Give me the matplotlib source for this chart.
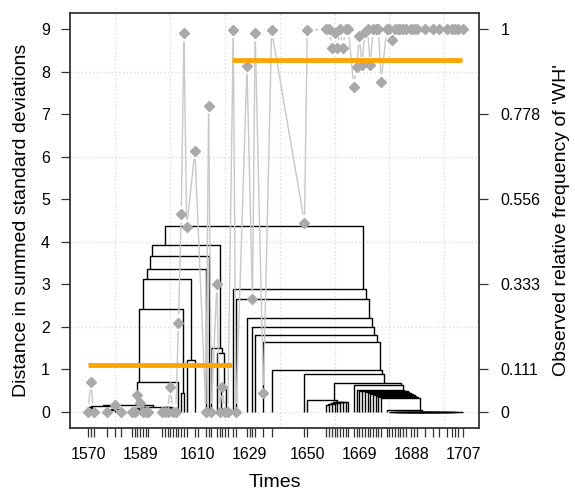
import matplotlib
matplotlib.use("Agg")
import matplotlib.pyplot as plt
import numpy as np
from matplotlib.collections import LineCollection

plt.rcParams["font.family"] = ["Liberation Sans", "DejaVu Sans"]

# ---------------------------------------------------------------------------
# Data
# ---------------------------------------------------------------------------

years = [
    1570, 1571, 1572, 1577, 1580, 1582, 1586, 1587, 1588, 1589, 1590, 1591,
    1592, 1597, 1598, 1599, 1600, 1601, 1602, 1603, 1604, 1605, 1606, 1609,
    1613, 1614, 1615, 1617, 1618, 1619, 1620, 1621, 1623, 1624, 1628, 1630,
    1631, 1634, 1637, 1649, 1650, 1657, 1658, 1659, 1660, 1661, 1662, 1663,
    1664, 1665, 1667, 1668, 1669, 1670, 1671, 1672, 1673, 1674, 1675, 1676,
    1677, 1679, 1680, 1681, 1682, 1683, 1684, 1685, 1686, 1688, 1689, 1690,
    1693, 1696, 1698, 1701, 1703, 1704, 1705, 1707,
]

# relative frequency of 'WH' per year
freq = [
    0.0, 0.079, 0.0, 0.0, 0.017, 0.0, 0.0, 0.0, 0.045, 0.022, 0.0, 0.0,
    0.0, 0.0, 0.0, 0.0, 0.065, 0.0, 0.0, 0.233, 0.516, 0.989, 0.482, 0.682,
    0.0, 0.8, 0.0, 0.333, 0.0, 0.064, 0.0, 0.0, 0.997, 0.0, 0.903, 0.294,
    0.989, 0.049, 0.997, 0.494, 0.997, 1.0, 1.0, 0.95, 0.99, 0.95, 1.0, 0.95,
    1.0, 1.0, 0.849, 0.9, 0.981, 0.907, 0.993, 1.0, 0.907, 1.0, 1.0, 1.0,
    0.863, 1.0, 1.0, 0.972, 1.0, 1.0, 1.0, 1.0, 1.0, 1.0, 1.0, 1.0,
    1.0, 1.0, 1.0, 1.0, 1.0, 1.0, 1.0, 1.0,
]

# neighbour clustering: (first year, first year of right part, last year, height)
merges = [
    (1571, 1572, 1572, 0.08), (1570, 1571, 1572, 0.12),
    (1577, 1580, 1580, 0.05), (1577, 1582, 1582, 0.06),
    (1570, 1577, 1582, 0.14),
    (1586, 1587, 1587, 0.0), (1588, 1589, 1589, 0.04), (1586, 1588, 1589, 0.08),
    (1590, 1591, 1591, 0.0), (1590, 1592, 1592, 0.0), (1586, 1590, 1592, 0.09),
    (1597, 1598, 1598, 0.0), (1597, 1599, 1599, 0.0), (1601, 1602, 1602, 0.0),
    (1600, 1601, 1602, 0.1), (1597, 1600, 1602, 0.11),
    (1586, 1597, 1602, 0.12), (1570, 1586, 1602, 0.16),
    (1570, 1603, 1603, 0.71),
    (1604, 1605, 1605, 0.45), (1570, 1604, 1605, 2.43),
    (1606, 1609, 1609, 1.22), (1570, 1606, 1609, 3.12),
    (1570, 1613, 1613, 3.37), (1570, 1614, 1614, 3.66),
    (1618, 1619, 1619, 0.1), (1620, 1621, 1621, 0.02), (1618, 1620, 1621, 0.56),
    (1617, 1618, 1621, 1.38), (1615, 1617, 1621, 1.5),
    (1570, 1615, 1621, 3.92),
    (1680, 1681, 1681, 0.0), (1680, 1682, 1682, 0.0), (1680, 1683, 1683, 0.0),
    (1680, 1684, 1684, 0.0), (1680, 1685, 1685, 0.0), (1680, 1686, 1686, 0.0),
    (1680, 1688, 1688, 0.0), (1680, 1689, 1689, 0.0), (1680, 1690, 1690, 0.0),
    (1680, 1693, 1693, 0.0), (1680, 1696, 1696, 0.0), (1680, 1698, 1698, 0.0),
    (1680, 1701, 1701, 0.0), (1680, 1703, 1703, 0.0), (1680, 1704, 1704, 0.0),
    (1680, 1705, 1705, 0.0), (1680, 1707, 1707, 0.0),
    (1679, 1680, 1707, 0.04), (1677, 1679, 1707, 0.32),
    (1676, 1677, 1707, 0.36), (1675, 1676, 1707, 0.38), (1674, 1675, 1707, 0.40),
    (1673, 1674, 1707, 0.42), (1672, 1673, 1707, 0.44), (1671, 1672, 1707, 0.46),
    (1670, 1671, 1707, 0.48), (1669, 1670, 1707, 0.50), (1668, 1669, 1707, 0.52),
    (1667, 1668, 1707, 0.63),
    (1657, 1658, 1658, 0.16), (1657, 1659, 1659, 0.175), (1657, 1660, 1660, 0.19),
    (1657, 1661, 1661, 0.20), (1657, 1662, 1662, 0.21), (1657, 1663, 1663, 0.22),
    (1657, 1664, 1664, 0.23), (1657, 1665, 1665, 0.24), (1650, 1657, 1665, 0.27),
    (1650, 1667, 1707, 0.67), (1649, 1650, 1707, 0.89),
    (1637, 1649, 1707, 0.98), (1634, 1637, 1707, 1.65), (1631, 1634, 1707, 1.80),
    (1630, 1631, 1707, 2.00), (1628, 1630, 1707, 2.20), (1624, 1628, 1707, 2.65),
    (1623, 1624, 1707, 2.88),
    (1570, 1623, 1707, 4.37),
]

# periods and their mean frequency (orange bars)
period_start = [1570, 1622.5]
period_end = [1622.5, 1706.5]
period_mean = [0.123, 0.919]

label_years = [1570, 1589, 1610, 1629, 1650, 1669, 1688, 1707]
right_ticks = [0, 1, 3, 5, 7, 9]
right_labels = ["0", "0.111", "0.333", "0.556", "0.778", "1"]
grid_x = [1580, 1600, 1620, 1640, 1660, 1680, 1700]
grid_y = [0, 2, 4, 6, 8]

# ---------------------------------------------------------------------------
# Figure
# ---------------------------------------------------------------------------

fig = plt.figure(figsize=(5.75, 4.92), dpi=100)
ax = fig.add_axes([70 / 575, 64 / 492, 409 / 575, 415 / 492])
ax.set_xlim(1563.4, 1712.7)
ax.set_ylim(-0.38, 9.38)

for gx in grid_x:
    ax.axvline(gx, color="#d9d9d9", linestyle=(0, (1, 2)), lw=0.9, zorder=0)
for gy in grid_y:
    ax.axhline(gy, color="#d9d9d9", linestyle=(0, (1, 2)), lw=0.9, zorder=0)

# dendrogram brackets, node position = mean of its leaf years
idx = {y: i for i, y in enumerate(years)}
node_height = {(idx[s], idx[e]): h for s, _, e, h in merges}


def span_x(i0, i1):
    return float(np.mean(years[i0:i1 + 1]))


def span_h(i0, i1):
    return 0.0 if i0 == i1 else node_height[(i0, i1)]


segs = []
for start, split, end, h in merges:
    i0, i1, i2 = idx[start], idx[split], idx[end]
    xl, hl = span_x(i0, i1 - 1), span_h(i0, i1 - 1)
    xr, hr = span_x(i1, i2), span_h(i1, i2)
    segs.append([(xl, hl), (xl, h), (xr, h), (xr, hr)])
ax.add_collection(LineCollection(segs, colors="black", linewidths=1.0, zorder=2))

ax.set_yticks(range(10))
ax.set_xticks(label_years)
ax.set_xticks(years, minor=True)
ax.tick_params(axis="both", which="both", length=6.5, width=0.9, labelsize=11.5,
               color="#333333")
ax.tick_params(axis="x", pad=7)
ax.tick_params(axis="y", pad=8)
for sp in ax.spines.values():
    sp.set_color("#333333")
    sp.set_linewidth(1.3)
ax.set_xlabel("Times", fontsize=14, labelpad=9)
ax.set_ylabel("Distance in summed standard deviations", fontsize=14, labelpad=8)

# frequency axis on the right
ax2 = ax.twinx()
ax2.set_ylim(-0.38 / 9, 9.38 / 9)
ax2.set_yticks([t / 9 for t in right_ticks])
ax2.set_yticklabels(right_labels)
ax2.tick_params(axis="y", length=6.5, width=0.9, labelsize=11.5, pad=9,
                color="#333333")
for sp in ax2.spines.values():
    sp.set_visible(False)
ax2.set_ylabel("Observed relative frequency of 'WH'", fontsize=14, labelpad=9)

# grey line with gaps around the points
gap = 8.0
pts = ax2.transData.transform(np.column_stack([years, freq]))
inv = ax2.transData.inverted()
gsegs = []
for p0, p1 in zip(pts[:-1], pts[1:]):
    d = p1 - p0
    L = np.hypot(*d)
    if L <= 2 * gap:
        continue
    u = d / L
    gsegs.append(inv.transform([p0 + u * gap, p1 - u * gap]))
ax2.add_collection(LineCollection(gsegs, colors="#c8c8c8", linewidths=1.0, zorder=3))
ax2.plot(years, freq, linestyle="none", marker="D", markersize=4.8,
         color="#a9a9a9", zorder=4)

for x0, x1, m in zip(period_start, period_end, period_mean):
    ax2.plot([x0, x1], [m, m], color="#ffa500", lw=3.5, solid_capstyle="butt",
             zorder=5)

fig.savefig("out.png", dpi=100)
